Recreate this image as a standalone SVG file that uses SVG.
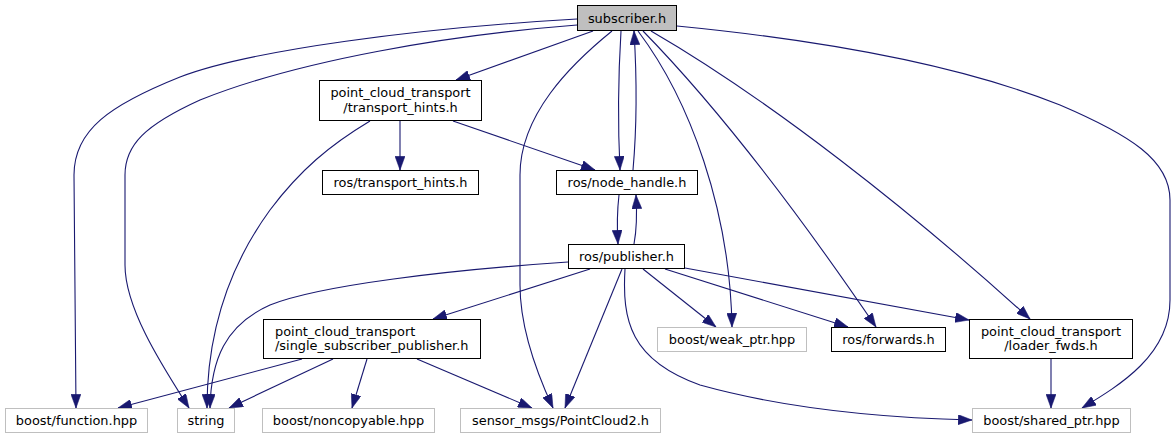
<svg xmlns="http://www.w3.org/2000/svg" width="1176" height="440" viewBox="0 0 1176 440">
<style>
.n rect{fill:#fff;stroke:#000;stroke-width:1}
.n.g rect{stroke:#bfbfbf}
.n.root rect{fill:#bfbfbf}
text{font-family:"DejaVu Sans","Liberation Sans",sans-serif;font-size:12.9px;fill:#000}
.c{text-anchor:middle}
#edges path{fill:none;stroke:#191970;stroke-width:1.1;marker-end:url(#ah)}
</style>
<defs>
<marker id="ah" markerUnits="userSpaceOnUse" markerWidth="14" markerHeight="10" viewBox="0 0 13 9.4" refX="13" refY="4.7" orient="auto">
<polygon points="0,0 13,4.7 0,9.4" fill="#191970" stroke="#191970" stroke-width="0.5"/>
</marker>
</defs>
<rect width="1176" height="440" fill="#fff"/>
<g id="edges">
<path d="M577,19 C420,28 250,50 180,77 C110,105 74,130 74,175 L76,408"/>
<path d="M577,25 C450,35 300,60 200,100 C145,125 125,145 125,175 L125,265 C125,310 165,370 189,408"/>
<path d="M593,31 L456,80"/>
<path d="M612,31 C570,65 520,115 520,175 L520,285 C520,330 540,380 553,408"/>
<path d="M621,31 C618,80 618,130 620,170"/>
<path d="M633,170 C637,125 637,80 634,31"/>
<path d="M638,31 C690,100 730,210 732,327"/>
<path d="M643,31 C730,120 810,230 876,327"/>
<path d="M651,31 C770,100 910,210 1030,319"/>
<path d="M677,26 C820,40 960,65 1060,105 C1130,135 1170,160 1170,200 L1170,300 C1170,355 1120,385 1082,408"/>
<path d="M400,121 L400,170"/>
<path d="M453,121 L595,170"/>
<path d="M370,121 C330,145 300,170 270,210 C230,265 207,330 207,408"/>
<path d="M619,195 C617,212 617,228 618,244"/>
<path d="M634,244 C637,228 637,212 636,195"/>
<path d="M568,262 C450,270 320,285 270,305 C225,325 211,360 210,408"/>
<path d="M590,269 L433,319"/>
<path d="M622,269 L565,408"/>
<path d="M625,269 C622,320 630,360 700,385 C790,410 890,418 972,420"/>
<path d="M643,269 L716,327"/>
<path d="M665,269 L848,327"/>
<path d="M685,268 L969,320"/>
<path d="M302,359 L118,408"/>
<path d="M333,359 L229,408"/>
<path d="M367,359 L352,408"/>
<path d="M417,359 L532,408"/>
<path d="M1051,359 L1051,408"/>
</g>
<g id="node1" class="n root"><rect x="577.5" y="5.5" width="99" height="25"/><text class="c" x="627" y="22.5">subscriber.h</text></g>
<g id="node2" class="n"><rect x="319.5" y="80.5" width="162" height="40"/><text class="c" x="400.5" y="97">point_cloud_transport</text><text class="c" x="400.5" y="111.5">/transport_hints.h</text></g>
<g id="node3" class="n"><rect x="322.5" y="170.5" width="156" height="24"/><text class="c" x="400.5" y="187">ros/transport_hints.h</text></g>
<g id="node4" class="n"><rect x="556.5" y="170.5" width="141" height="24"/><text class="c" x="627" y="187">ros/node_handle.h</text></g>
<g id="node5" class="n"><rect x="568.5" y="244.5" width="116" height="24"/><text class="c" x="626.5" y="261">ros/publisher.h</text></g>
<g id="node6" class="n"><rect x="263.5" y="319.5" width="217" height="39"/><text x="275" y="335.5">point_cloud_transport</text><text x="275" y="350">/single_subscriber_publisher.h</text></g>
<g id="node7" class="n g"><rect x="657.5" y="327.5" width="149" height="24"/><text class="c" x="732" y="344">boost/weak_ptr.hpp</text></g>
<g id="node8" class="n"><rect x="831.5" y="327.5" width="114" height="24"/><text class="c" x="888.5" y="344">ros/forwards.h</text></g>
<g id="node9" class="n"><rect x="969.5" y="319.5" width="163" height="39"/><text class="c" x="1051" y="335.5">point_cloud_transport</text><text class="c" x="1051" y="350">/loader_fwds.h</text></g>
<g id="node10" class="n g"><rect x="5.5" y="408.5" width="142" height="24"/><text class="c" x="76.5" y="425">boost/function.hpp</text></g>
<g id="node11" class="n g"><rect x="177.5" y="408.5" width="57" height="24"/><text class="c" x="206" y="425">string</text></g>
<g id="node12" class="n g"><rect x="262.5" y="408.5" width="172" height="24"/><text class="c" x="348.5" y="425">boost/noncopyable.hpp</text></g>
<g id="node13" class="n g"><rect x="460.5" y="408.5" width="200" height="24"/><text class="c" x="560.5" y="425">sensor_msgs/PointCloud2.h</text></g>
<g id="node14" class="n g"><rect x="972.5" y="408.5" width="158" height="24"/><text class="c" x="1051.5" y="425">boost/shared_ptr.hpp</text></g>
</svg>
